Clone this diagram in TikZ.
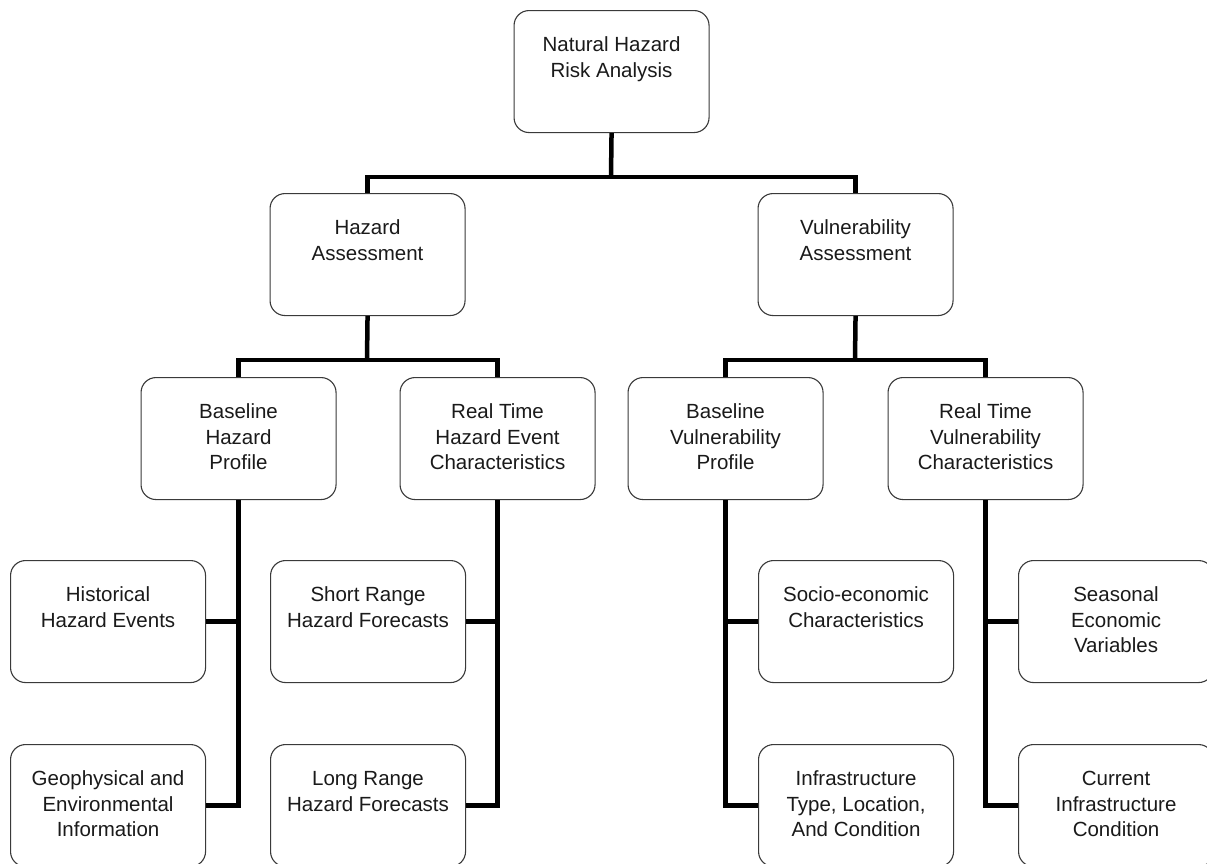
\documentclass[tikz,border=0pt]{standalone}
\usepackage{fontspec}
\setmainfont{Liberation Sans}
\definecolor{boxgray}{HTML}{3A3A3A}
\definecolor{txt}{HTML}{1A1A1A}
\newcommand\boxtext[1]{\parbox[c][122pt][t]{195pt}{\centering\color{txt}\fontsize{20.5}{25.5}\selectfont\rule{0pt}{41pt}#1\par}}
\tikzset{
  box/.style={draw=boxgray, line width=1.1pt, rounded corners=15pt, inner sep=0pt, anchor=north west, fill=white},
  link/.style={line width=4.5pt, black},
}
\begin{document}
\begin{tikzpicture}[x=1pt, y=-1pt]
\clip (0,0) rectangle (1207,863);
\fill[white] (0,0) rectangle (1207,863);
% level 0
\node[box] (root) at (513.5,10) {\boxtext{Natural Hazard\\Risk Analysis}};
% level 1
\node[box] (ha) at (269.5,193) {\boxtext{Hazard\\Assessment}};
\node[box] (va) at (757.5,193) {\boxtext{Vulnerability\\Assessment}};
% level 2
\node[box] (bhp) at (140.5,377) {\boxtext{Baseline\\Hazard\\Profile}};
\node[box] (rth) at (399.5,377) {\boxtext{Real Time\\Hazard Event\\Characteristics}};
\node[box] (bvp) at (627.5,377) {\boxtext{Baseline\\Vulnerability\\Profile}};
\node[box] (rtv) at (887.5,377) {\boxtext{Real Time\\Vulnerability\\Characteristics}};
% level 3
\node[box] (hist) at (10,560) {\boxtext{Historical\\Hazard Events}};
\node[box] (geo) at (10,744) {\boxtext{Geophysical and\\Environmental\\Information}};
\node[box] (srf) at (270,560) {\boxtext{Short Range\\Hazard Forecasts}};
\node[box] (lrf) at (270,744) {\boxtext{Long Range\\Hazard Forecasts}};
\node[box] (soc) at (758,560) {\boxtext{Socio-economic\\Characteristics}};
\node[box] (inf) at (758,744) {\boxtext{Infrastructure\\Type, Location,\\And Condition}};
\node[box] (sea) at (1018,560) {\boxtext{Seasonal\\Economic\\Variables}};
\node[box] (cur) at (1018,744) {\boxtext{Current\\Infrastructure\\Condition}};
% buses
\coordinate (bus0) at (611,177);
\coordinate (busH) at (367,360);
\coordinate (busV) at (855,360);
% connectors
\draw[link] (root.south) -- (bus0);
\draw[link] (ha.north) |- (bus0) -| (va.north);
\draw[link] (ha.south) -- (busH);
\draw[link] (bhp.north) |- (busH) -| (rth.north);
\draw[link] (va.south) -- (busV);
\draw[link] (bvp.north) |- (busV) -| (rtv.north);
\draw[link] (bhp.south) |- (geo.east);
\draw[link] (hist.east) -- (hist.east -| bhp.south);
\draw[link] (rth.south) |- (lrf.east);
\draw[link] (srf.east) -- (srf.east -| rth.south);
\draw[link] (bvp.south) |- (inf.west);
\draw[link] (soc.west) -- (soc.west -| bvp.south);
\draw[link] (rtv.south) |- (cur.west);
\draw[link] (sea.west) -- (sea.west -| rtv.south);
\end{tikzpicture}
\end{document}
